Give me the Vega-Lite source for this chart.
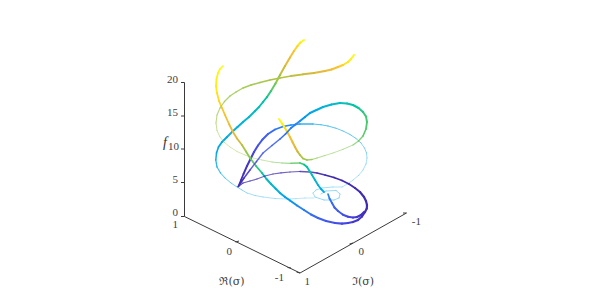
{"$schema":"https://vega.github.io/schema/vega-lite/v6.json","width":599,"height":307,"padding":0,"autosize":{"type":"none"},"background":"white","view":{"stroke":null},
"datasets":{"curves":[
{"c":"E","i":0,"u":238.3,"v":186.5,"t":0.0,"w":1.6},{"c":"E","i":1,"u":241,"v":180,"t":0.02,"w":1.8},{"c":"E","i":2,"u":243.5,"v":174,"t":0.04,"w":1.9},{"c":"E","i":3,"u":247,"v":166,"t":0.06,"w":2},{"c":"E","i":4,"u":250.5,"v":159,"t":0.09,"w":2},{"c":"E","i":5,"u":254,"v":152,"t":0.12,"w":2},{"c":"E","i":6,"u":258,"v":145.5,"t":0.15,"w":2},{"c":"E","i":7,"u":262.5,"v":139.5,"t":0.18,"w":2},{"c":"E","i":8,"u":268,"v":134,"t":0.21,"w":2},{"c":"E","i":9,"u":275,"v":129.5,"t":0.25,"w":1.8},{"c":"E","i":10,"u":283,"v":126.5,"t":0.29,"w":1.6},{"c":"E","i":11,"u":291,"v":125,"t":0.32,"w":1.4},{"c":"E","i":12,"u":300,"v":124,"t":0.35,"w":1.3},{"c":"E","i":13,"u":313,"v":124,"t":0.37,"w":1.15},{"c":"E","i":14,"u":321,"v":124.7,"t":0.37,"w":1.1},{"c":"E","i":15,"u":328,"v":126,"t":0.37,"w":1.05},{"c":"E","i":16,"u":336,"v":128.2,"t":0.37,"w":1},{"c":"E","i":17,"u":343,"v":131,"t":0.37,"w":1},{"c":"E","i":18,"u":350,"v":134.5,"t":0.37,"w":1},{"c":"E","i":19,"u":356,"v":138.5,"t":0.37,"w":0.95},{"c":"E","i":20,"u":361,"v":143,"t":0.37,"w":0.9},{"c":"E","i":21,"u":364.5,"v":148,"t":0.37,"w":0.9},{"c":"E","i":22,"u":366.5,"v":153,"t":0.37,"w":0.85},{"c":"E","i":23,"u":367,"v":158,"t":0.37,"w":0.8},{"c":"E","i":24,"u":366,"v":164,"t":0.37,"w":0.8},{"c":"E","i":25,"u":363,"v":170,"t":0.37,"w":0.75},{"c":"E","i":26,"u":358.5,"v":175.5,"t":0.37,"w":0.75},{"c":"E","i":27,"u":353,"v":180,"t":0.37,"w":0.75},{"c":"E","i":28,"u":347.5,"v":184,"t":0.37,"w":0.75},{"c":"E","i":29,"u":342,"v":187,"t":0.37,"w":0.75},
{"c":"B","i":0,"u":304,"v":40,"t":1,"w":2},{"c":"B","i":1,"u":300.5,"v":42.5,"t":0.97,"w":2},{"c":"B","i":2,"u":297.5,"v":46,"t":0.93,"w":2},{"c":"B","i":3,"u":294,"v":51,"t":0.88,"w":2},{"c":"B","i":4,"u":290,"v":57.5,"t":0.83,"w":2},{"c":"B","i":5,"u":285,"v":66,"t":0.77,"w":2},{"c":"B","i":6,"u":280,"v":75,"t":0.71,"w":2},{"c":"B","i":7,"u":275.5,"v":83.5,"t":0.65,"w":2},{"c":"B","i":8,"u":271,"v":91,"t":0.59,"w":2},{"c":"B","i":9,"u":267,"v":97,"t":0.55,"w":2},{"c":"B","i":10,"u":263,"v":102,"t":0.52,"w":2},{"c":"B","i":11,"u":259,"v":107,"t":0.49,"w":2},{"c":"B","i":12,"u":255,"v":111,"t":0.47,"w":2},{"c":"B","i":13,"u":249,"v":117,"t":0.44,"w":2},{"c":"B","i":14,"u":243,"v":122,"t":0.42,"w":2},{"c":"B","i":15,"u":237.5,"v":127,"t":0.41,"w":2},{"c":"B","i":16,"u":232,"v":132,"t":0.4,"w":2},{"c":"B","i":17,"u":227,"v":137,"t":0.39,"w":1.9},{"c":"B","i":18,"u":222,"v":142,"t":0.38,"w":1.8},{"c":"B","i":19,"u":218.5,"v":147,"t":0.38,"w":1.6},{"c":"B","i":20,"u":216.5,"v":153,"t":0.37,"w":1.5},{"c":"B","i":21,"u":215.8,"v":160,"t":0.37,"w":1.35},{"c":"B","i":22,"u":217,"v":167,"t":0.37,"w":1.2},{"c":"B","i":23,"u":220.5,"v":173,"t":0.37,"w":1.05},{"c":"B","i":24,"u":225,"v":178,"t":0.37,"w":1},{"c":"B","i":25,"u":231,"v":183,"t":0.37,"w":0.95},{"c":"B","i":26,"u":237,"v":187,"t":0.37,"w":0.9},{"c":"B","i":27,"u":242,"v":190,"t":0.37,"w":0.85},{"c":"B","i":28,"u":247,"v":193,"t":0.37,"w":0.8},{"c":"B","i":29,"u":255,"v":195.5,"t":0.37,"w":0.8},{"c":"B","i":30,"u":263,"v":197,"t":0.37,"w":0.75},{"c":"B","i":31,"u":275,"v":198.5,"t":0.37,"w":0.75},{"c":"B","i":32,"u":287,"v":199,"t":0.37,"w":0.75},{"c":"B","i":33,"u":296,"v":198.7,"t":0.37,"w":0.7},{"c":"B","i":34,"u":305,"v":198,"t":0.37,"w":0.7},{"c":"B","i":35,"u":314,"v":198,"t":0.37,"w":0.75},
{"c":"S","i":0,"u":342,"v":187,"t":0.37,"w":0.75},{"c":"S","i":1,"u":333,"v":187,"t":0.37,"w":0.8},{"c":"S","i":2,"u":322,"v":188,"t":0.37,"w":0.8},{"c":"S","i":3,"u":316,"v":190,"t":0.37,"w":0.8},{"c":"S","i":4,"u":313,"v":193,"t":0.37,"w":0.8},{"c":"S","i":5,"u":315,"v":197,"t":0.37,"w":0.85},{"c":"S","i":6,"u":324,"v":200,"t":0.37,"w":0.85},{"c":"S","i":7,"u":334,"v":200,"t":0.37,"w":0.85},{"c":"S","i":8,"u":339,"v":198,"t":0.37,"w":0.85},{"c":"S","i":9,"u":340,"v":194,"t":0.37,"w":0.85},{"c":"S","i":10,"u":336,"v":190.5,"t":0.37,"w":0.85},{"c":"S","i":11,"u":326,"v":191,"t":0.37,"w":0.85},{"c":"S","i":12,"u":321,"v":194,"t":0.37,"w":0.85},
{"c":"A","i":0,"u":223,"v":66,"t":1,"w":1.6},{"c":"A","i":1,"u":220,"v":69,"t":1,"w":1.7},{"c":"A","i":2,"u":218,"v":73,"t":0.99,"w":1.8},{"c":"A","i":3,"u":216.5,"v":79,"t":0.98,"w":1.8},{"c":"A","i":4,"u":216,"v":86,"t":0.97,"w":1.8},{"c":"A","i":5,"u":217,"v":93,"t":0.95,"w":1.8},{"c":"A","i":6,"u":219,"v":101,"t":0.93,"w":1.8},{"c":"A","i":7,"u":222,"v":108,"t":0.9,"w":1.8},{"c":"A","i":8,"u":225,"v":115,"t":0.87,"w":1.8},{"c":"A","i":9,"u":229,"v":124,"t":0.84,"w":1.8},{"c":"A","i":10,"u":233,"v":132,"t":0.81,"w":1.8},{"c":"A","i":11,"u":237,"v":138.5,"t":0.78,"w":1.8},{"c":"A","i":12,"u":242,"v":145,"t":0.74,"w":1.8},{"c":"A","i":13,"u":246,"v":151.5,"t":0.7,"w":1.8},{"c":"A","i":14,"u":250,"v":158,"t":0.65,"w":1.8},{"c":"A","i":15,"u":256,"v":166,"t":0.58,"w":1.8},{"c":"A","i":16,"u":262,"v":173,"t":0.52,"w":1.9},{"c":"A","i":17,"u":266.5,"v":179,"t":0.48,"w":2},{"c":"A","i":18,"u":271,"v":184,"t":0.44,"w":2},{"c":"A","i":19,"u":275.5,"v":188.5,"t":0.41,"w":2},{"c":"A","i":20,"u":280,"v":193,"t":0.38,"w":2},{"c":"A","i":21,"u":285,"v":197,"t":0.35,"w":2},{"c":"A","i":22,"u":290,"v":200.5,"t":0.33,"w":2},{"c":"A","i":23,"u":297,"v":205.5,"t":0.28,"w":2},{"c":"A","i":24,"u":304,"v":210,"t":0.24,"w":2},{"c":"A","i":25,"u":311,"v":214.5,"t":0.21,"w":2},{"c":"A","i":26,"u":318,"v":218,"t":0.18,"w":2.1},{"c":"A","i":27,"u":326,"v":221,"t":0.15,"w":2.1},{"c":"A","i":28,"u":335,"v":223,"t":0.13,"w":2.2},{"c":"A","i":29,"u":342,"v":223.6,"t":0.11,"w":2.2},{"c":"A","i":30,"u":348,"v":223,"t":0.09,"w":2.2},{"c":"A","i":31,"u":353,"v":222,"t":0.07,"w":2.2},{"c":"A","i":32,"u":358,"v":220,"t":0.06,"w":2.2},{"c":"A","i":33,"u":362,"v":216.5,"t":0.04,"w":2.2},{"c":"A","i":34,"u":365,"v":212,"t":0.03,"w":2.2},{"c":"A","i":35,"u":366.8,"v":208.5,"t":0.03,"w":2.2},{"c":"A","i":36,"u":367,"v":205,"t":0.02,"w":2.2},{"c":"A","i":37,"u":366,"v":201,"t":0.02,"w":2.2},{"c":"A","i":38,"u":364,"v":197,"t":0.02,"w":2.1},{"c":"A","i":39,"u":360,"v":192,"t":0.02,"w":2},{"c":"A","i":40,"u":355,"v":188,"t":0.02,"w":1.9},{"c":"A","i":41,"u":349,"v":184,"t":0.02,"w":1.8},{"c":"A","i":42,"u":342,"v":180.5,"t":0.02,"w":1.7},{"c":"A","i":43,"u":334,"v":177.5,"t":0.01,"w":1.6},{"c":"A","i":44,"u":325,"v":175,"t":0.01,"w":1.5},{"c":"A","i":45,"u":317,"v":173,"t":0.01,"w":1.4},{"c":"A","i":46,"u":310,"v":172,"t":0.01,"w":1.3},{"c":"A","i":47,"u":300,"v":171.5,"t":0.01,"w":1.25},{"c":"A","i":48,"u":290,"v":172,"t":0.01,"w":1.2},{"c":"A","i":49,"u":281,"v":172.8,"t":0.01,"w":1.2},{"c":"A","i":50,"u":273,"v":174,"t":0.01,"w":1.2},{"c":"A","i":51,"u":265,"v":176,"t":0.01,"w":1.2},{"c":"A","i":52,"u":257,"v":179,"t":0.01,"w":1.2},{"c":"A","i":53,"u":250,"v":181,"t":0.01,"w":1.25},{"c":"A","i":54,"u":243,"v":183,"t":0.0,"w":1.3},{"c":"A","i":55,"u":238.3,"v":186.5,"t":0.0,"w":1.5},
{"c":"C","i":0,"u":354,"v":55,"t":1,"w":2},{"c":"C","i":1,"u":351,"v":59,"t":0.98,"w":2},{"c":"C","i":2,"u":348,"v":62,"t":0.96,"w":2},{"c":"C","i":3,"u":343,"v":65,"t":0.92,"w":2},{"c":"C","i":4,"u":338,"v":67,"t":0.88,"w":2},{"c":"C","i":5,"u":331.5,"v":69.5,"t":0.85,"w":2},{"c":"C","i":6,"u":325,"v":71,"t":0.82,"w":2},{"c":"C","i":7,"u":314,"v":73,"t":0.78,"w":1.9},{"c":"C","i":8,"u":303,"v":74.3,"t":0.76,"w":1.8},{"c":"C","i":9,"u":291,"v":76,"t":0.75,"w":1.7},{"c":"C","i":10,"u":280,"v":78,"t":0.74,"w":1.6},{"c":"C","i":11,"u":270,"v":80,"t":0.73,"w":1.55},{"c":"C","i":12,"u":260,"v":82.5,"t":0.72,"w":1.5},{"c":"C","i":13,"u":251,"v":85,"t":0.72,"w":1.45},{"c":"C","i":14,"u":243,"v":88,"t":0.72,"w":1.4},{"c":"C","i":15,"u":236,"v":92,"t":0.72,"w":1.35},{"c":"C","i":16,"u":230,"v":96,"t":0.72,"w":1.3},{"c":"C","i":17,"u":224.5,"v":101.5,"t":0.72,"w":1.25},{"c":"C","i":18,"u":220,"v":108,"t":0.72,"w":1.15},{"c":"C","i":19,"u":217,"v":115,"t":0.72,"w":1.1},{"c":"C","i":20,"u":216,"v":123,"t":0.72,"w":1},{"c":"C","i":21,"u":217,"v":130.5,"t":0.72,"w":0.95},{"c":"C","i":22,"u":220,"v":137,"t":0.72,"w":0.9},{"c":"C","i":23,"u":224.5,"v":142.5,"t":0.72,"w":0.85},{"c":"C","i":24,"u":230,"v":147,"t":0.72,"w":0.85},{"c":"C","i":25,"u":237,"v":151.5,"t":0.72,"w":0.85},{"c":"C","i":26,"u":245,"v":155,"t":0.72,"w":0.85},{"c":"C","i":27,"u":253,"v":158,"t":0.72,"w":0.85},{"c":"C","i":28,"u":262,"v":160,"t":0.7,"w":0.9},{"c":"C","i":29,"u":272,"v":162,"t":0.68,"w":1},{"c":"C","i":30,"u":282,"v":163,"t":0.66,"w":1.2},{"c":"C","i":31,"u":291,"v":163.3,"t":0.64,"w":1.4},{"c":"C","i":32,"u":300,"v":163,"t":0.6,"w":1.7},{"c":"C","i":33,"u":304,"v":164.5,"t":0.56,"w":1.8},{"c":"C","i":34,"u":307,"v":167,"t":0.53,"w":1.9},{"c":"C","i":35,"u":309.5,"v":171,"t":0.5,"w":1.9},{"c":"C","i":36,"u":312,"v":175,"t":0.47,"w":1.9},{"c":"C","i":37,"u":315,"v":180,"t":0.44,"w":1.9},{"c":"C","i":38,"u":318,"v":185,"t":0.41,"w":1.9},{"c":"C","i":39,"u":321,"v":189,"t":0.38,"w":1.8},{"c":"C","i":40,"u":324,"v":192,"t":0.36,"w":1.7},
{"c":"C2","i":0,"u":328,"v":194,"t":0.27,"w":1.7},{"c":"C2","i":1,"u":329.5,"v":198.5,"t":0.23,"w":1.9},{"c":"C2","i":2,"u":332,"v":203,"t":0.2,"w":2},{"c":"C2","i":3,"u":334.5,"v":207.5,"t":0.18,"w":2},{"c":"C2","i":4,"u":338,"v":211,"t":0.16,"w":2},{"c":"C2","i":5,"u":343,"v":214.7,"t":0.13,"w":2.1},{"c":"C2","i":6,"u":348,"v":216.7,"t":0.1,"w":2.1},{"c":"C2","i":7,"u":353,"v":217.5,"t":0.08,"w":2.2},{"c":"C2","i":8,"u":357,"v":217,"t":0.06,"w":2.2},{"c":"C2","i":9,"u":361,"v":215,"t":0.04,"w":2.2},{"c":"C2","i":10,"u":364,"v":212,"t":0.03,"w":2.2},
{"c":"D","i":0,"u":279,"v":119,"t":1,"w":2},{"c":"D","i":1,"u":282,"v":123.5,"t":0.98,"w":2},{"c":"D","i":2,"u":285,"v":128,"t":0.94,"w":2},{"c":"D","i":3,"u":287.5,"v":132.5,"t":0.9,"w":2},{"c":"D","i":4,"u":290,"v":137,"t":0.86,"w":2},{"c":"D","i":5,"u":292.5,"v":142,"t":0.83,"w":2},{"c":"D","i":6,"u":295,"v":147,"t":0.8,"w":2},{"c":"D","i":7,"u":297.5,"v":151.5,"t":0.76,"w":2},{"c":"D","i":8,"u":300,"v":155,"t":0.74,"w":1.9},{"c":"D","i":9,"u":303,"v":158.5,"t":0.72,"w":1.7},{"c":"D","i":10,"u":307,"v":160,"t":0.71,"w":1.4},{"c":"D","i":11,"u":312,"v":159.5,"t":0.7,"w":1.2},{"c":"D","i":12,"u":317,"v":158,"t":0.7,"w":1.05},{"c":"D","i":13,"u":325,"v":155.5,"t":0.7,"w":0.95},{"c":"D","i":14,"u":333,"v":153,"t":0.69,"w":0.95},{"c":"D","i":15,"u":343,"v":149.3,"t":0.68,"w":1},{"c":"D","i":16,"u":353,"v":145,"t":0.66,"w":1.2},{"c":"D","i":17,"u":358.5,"v":141,"t":0.65,"w":1.4},{"c":"D","i":18,"u":363,"v":136,"t":0.63,"w":1.6},{"c":"D","i":19,"u":366,"v":129,"t":0.62,"w":1.8},{"c":"D","i":20,"u":367,"v":122,"t":0.61,"w":1.9},{"c":"D","i":21,"u":366,"v":116.5,"t":0.6,"w":2},{"c":"D","i":22,"u":363,"v":112,"t":0.58,"w":2},{"c":"D","i":23,"u":358.5,"v":108,"t":0.55,"w":2},{"c":"D","i":24,"u":353,"v":105,"t":0.52,"w":2},{"c":"D","i":25,"u":347,"v":103.5,"t":0.5,"w":2},{"c":"D","i":26,"u":340,"v":103,"t":0.47,"w":2},{"c":"D","i":27,"u":331.5,"v":104.5,"t":0.44,"w":2},{"c":"D","i":28,"u":323,"v":107,"t":0.41,"w":2},{"c":"D","i":29,"u":316.5,"v":110,"t":0.38,"w":2},{"c":"D","i":30,"u":310,"v":113,"t":0.36,"w":2},{"c":"D","i":31,"u":305,"v":117,"t":0.33,"w":2},{"c":"D","i":32,"u":300,"v":121,"t":0.3,"w":2},{"c":"D","i":33,"u":295.5,"v":124.5,"t":0.27,"w":1.9},{"c":"D","i":34,"u":291,"v":128,"t":0.25,"w":1.8},{"c":"D","i":35,"u":285.5,"v":134,"t":0.22,"w":1.6},{"c":"D","i":36,"u":280,"v":139,"t":0.19,"w":1.5},{"c":"D","i":37,"u":272,"v":145.5,"t":0.17,"w":1.4},{"c":"D","i":38,"u":263,"v":153,"t":0.14,"w":1.4},{"c":"D","i":39,"u":256.5,"v":161.5,"t":0.11,"w":1.4},{"c":"D","i":40,"u":250,"v":170,"t":0.07,"w":1.5},{"c":"D","i":41,"u":244,"v":178,"t":0.03,"w":1.6},{"c":"D","i":42,"u":238.3,"v":186.5,"t":0.0,"w":1.8}
],
"frame":[
{"a":"z","i":0,"u":184.5,"v":82.5},{"a":"z","i":1,"u":184.5,"v":216.5},
{"a":"re","i":0,"u":184.5,"v":216.5},{"a":"re","i":1,"u":300,"v":273},
{"a":"im","i":0,"u":300,"v":273},{"a":"im","i":1,"u":406.5,"v":213},
{"a":"t1","i":0,"u":181,"v":82.5},{"a":"t1","i":1,"u":184.5,"v":82.5},
{"a":"t2","i":0,"u":181,"v":116},{"a":"t2","i":1,"u":184.5,"v":116},
{"a":"t3","i":0,"u":181,"v":149},{"a":"t3","i":1,"u":184.5,"v":149},
{"a":"t4","i":0,"u":181,"v":182.5},{"a":"t4","i":1,"u":184.5,"v":182.5},
{"a":"t5","i":0,"u":181,"v":216.5},{"a":"t5","i":1,"u":184.5,"v":216.5},
{"a":"r1","i":0,"u":235.5,"v":242},{"a":"r1","i":1,"u":239,"v":241},
{"a":"r2","i":0,"u":287.5,"v":267.5},{"a":"r2","i":1,"u":291,"v":268},
{"a":"i1","i":0,"u":349.5,"v":244},{"a":"i1","i":1,"u":353,"v":243},
{"a":"i2","i":0,"u":403,"v":213},{"a":"i2","i":1,"u":406.5,"v":213},
{"a":"i3","i":0,"u":296.5,"v":272},{"a":"i3","i":1,"u":300,"v":273}
],
"ticks":[{"s":"20","u":178,"v":80},{"s":"15","u":178,"v":113},{"s":"10","u":179,"v":147},{"s":"5","u":178,"v":180},{"s":"0","u":178,"v":213},{"s":"1","u":178,"v":225},{"s":"0","u":232,"v":252},{"s":"-1","u":284,"v":278},{"s":"1","u":310,"v":282},{"s":"0","u":364,"v":252},{"s":"-1","u":421,"v":222}],
"titles":[{"s":"ℜ(σ)","u":232,"v":282},{"s":"ℑ(σ)","u":363,"v":282}],
"zt":[{"s":"f","u":165,"v":143}]
},
"layer":[
{"data":{"name":"frame"},"mark":{"type":"line","color":"#3a3a3a","strokeWidth":1},"encoding":{"x":{"field":"u","type":"quantitative","scale":{"domain":[0,599],"nice":false,"zero":false},"axis":null},"y":{"field":"v","type":"quantitative","scale":{"domain":[307,0],"nice":false,"zero":false},"axis":null},"detail":{"field":"a"},"order":{"field":"i"}}},
{"data":{"name":"curves"},"transform":[{"window":[{"op":"lead","field":"u","as":"u2"},{"op":"lead","field":"v","as":"v2"}],"groupby":["c"],"sort":[{"field":"i","order":"ascending"}]},{"filter":"datum.u2 != null"}],"mark":{"type":"rule","strokeCap":"round"},"encoding":{"x":{"field":"u","type":"quantitative","scale":{"domain":[0,599],"nice":false,"zero":false},"axis":null},"y":{"field":"v","type":"quantitative","scale":{"domain":[307,0],"nice":false,"zero":false},"axis":null},"x2":{"field":"u2"},"y2":{"field":"v2"},"color":{"field":"t","type":"quantitative","legend":null,"scale":{"domain":[0,0.1,0.2,0.3,0.4,0.5,0.6,0.7,0.8,0.9,1],"range":["#3e26a8","#4743e0","#3f66f5","#2a8cf0","#14aee0","#0cbfb8","#3ac878","#8cc850","#e0b83c","#fdc32c","#f9fb15"]}},"size":{"field":"w","type":"quantitative","legend":null,"scale":{"domain":[0,3],"range":[0,3]}},"opacity":{"field":"w","type":"quantitative","legend":null,"scale":{"domain":[0.7,1.6],"range":[0.38,1],"clamp":true}}}},
{"data":{"name":"ticks"},"mark":{"type":"text","font":"Liberation Serif","fontSize":11,"color":"#404040","align":"right","baseline":"middle"},"encoding":{"x":{"field":"u","type":"quantitative","scale":{"domain":[0,599],"nice":false,"zero":false},"axis":null},"y":{"field":"v","type":"quantitative","scale":{"domain":[307,0],"nice":false,"zero":false},"axis":null},"text":{"field":"s"}}},
{"data":{"name":"titles"},"mark":{"type":"text","font":"DejaVu Serif","fontSize":11,"color":"#404040","align":"center","baseline":"middle"},"encoding":{"x":{"field":"u","type":"quantitative","scale":{"domain":[0,599],"nice":false,"zero":false},"axis":null},"y":{"field":"v","type":"quantitative","scale":{"domain":[307,0],"nice":false,"zero":false},"axis":null},"text":{"field":"s"}}},
{"data":{"name":"zt"},"mark":{"type":"text","font":"Liberation Serif","fontStyle":"italic","fontSize":14,"color":"#303030","align":"center","baseline":"middle"},"encoding":{"x":{"field":"u","type":"quantitative","scale":{"domain":[0,599],"nice":false,"zero":false},"axis":null},"y":{"field":"v","type":"quantitative","scale":{"domain":[307,0],"nice":false,"zero":false},"axis":null},"text":{"field":"s"}}}
],
"config":{"view":{"stroke":null}}}
